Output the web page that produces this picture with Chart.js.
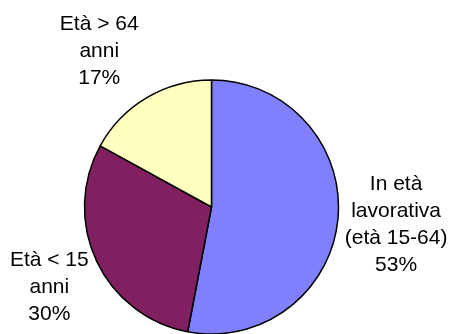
<!DOCTYPE html>
<html lang="it">
<head>
    <meta charset="UTF-8">
    <title>Popolazione per età</title>
    <script src="https://cdn.jsdelivr.net/npm/chart.js"></script>
    <style>
        html, body { margin: 0; padding: 0; background: #fff; }
        #wrap { width: 453px; height: 334px; }
    </style>
</head>
<body>
    <div id="wrap"><canvas id="pieChart" width="453" height="334"></canvas></div>

    <script>
        // dati
        const categories = [
            ["In età", "lavorativa", "(età 15-64)"],
            ["Età < 15", "anni"],
            ["Età > 64", "anni"]
        ];
        const shares = [53, 30, 17];
        const sliceColors = ["#8080FF", "#802060", "#FFFFC0"];

        // distanza etichetta (in raggi) e piccolo spostamento in px
        const labelDist = [1.46, 1.42, 1.52];
        const labelNudge = [[0, 0], [1, 3], [-14, 10]];

        const outsideLabels = {
            id: "outsideLabels",
            afterDraw(chart) {
                const ctx = chart.ctx;
                const meta = chart.getDatasetMeta(0);
                const total = shares.reduce((a, b) => a + b, 0);
                ctx.save();
                ctx.font = "21px 'Liberation Sans', Arial, sans-serif";
                ctx.fillStyle = "#000";
                ctx.textAlign = "center";
                ctx.textBaseline = "middle";
                meta.data.forEach((arc, i) => {
                    const mid = (arc.startAngle + arc.endAngle) / 2;
                    const d = arc.outerRadius * labelDist[i];
                    const x = arc.x + Math.cos(mid) * d + labelNudge[i][0];
                    const y = arc.y + Math.sin(mid) * d + labelNudge[i][1];
                    const lines = categories[i].concat([Math.round(shares[i] / total * 100) + "%"]);
                    const lh = 27;
                    let y0 = y - (lines.length - 1) * lh / 2;
                    lines.forEach((t, k) => ctx.fillText(t, x, y0 + k * lh));
                });
                ctx.restore();
            }
        };

        new Chart(document.getElementById("pieChart").getContext("2d"), {
            type: "pie",
            data: {
                labels: categories.map(c => c.join(" ")),
                datasets: [{
                    data: shares,
                    backgroundColor: sliceColors,
                    borderColor: "#000",
                    borderWidth: 1.5
                }]
            },
            options: {
                responsive: false,
                animation: false,
                radius: 127,
                layout: { padding: { left: 0, right: 30, top: 80, bottom: 0 } },
                plugins: {
                    legend: { display: false },
                    tooltip: { enabled: false }
                }
            },
            plugins: [outsideLabels]
        });
    </script>
</body>
</html>
